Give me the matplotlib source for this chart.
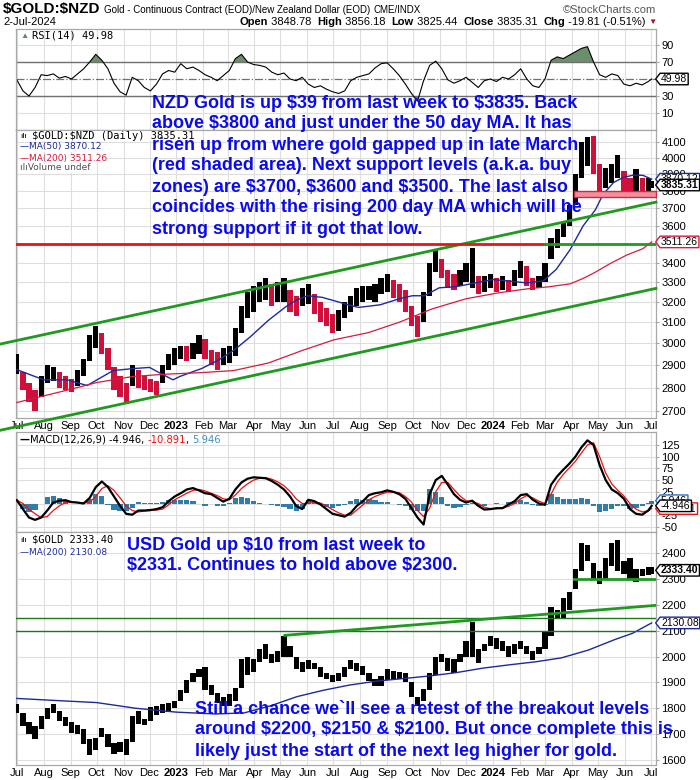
import numpy as np
import pandas as pd
import matplotlib
matplotlib.use('Agg')
import matplotlib.pyplot as plt
from matplotlib.path import Path

plt.rcParams['font.family'] = ['Liberation Sans', 'DejaVu Sans']
plt.rcParams['text.parse_math'] = False

# weekly bars (Fridays) + last day
week_dates = pd.date_range('2022-07-01', periods=105, freq='7D').append(pd.DatetimeIndex(['2024-07-02']))

nzd_low = [2860, 2790, 2740, 2700, 2760, 2820, 2830, 2800, 2790, 2780,
           2810, 2850, 2920, 2980, 2950, 2880, 2790, 2760, 2730, 2810,
           2800, 2790, 2780, 2770, 2820, 2880, 2900, 2930, 2920, 2930,
           2950, 2930, 2900, 2880, 2900, 2910, 2940, 3050, 3120, 3150,
           3200, 3210, 3180, 3200, 3200, 3150, 3130, 3180, 3190, 3140,
           3100, 3080, 3050, 3060, 3120, 3150, 3180, 3200, 3210, 3200,
           3240, 3250, 3220, 3200, 3150, 3080, 3030, 3100, 3230, 3350,
           3320, 3270, 3260, 3280, 3300, 3270, 3240, 3250, 3270, 3250,
           3260, 3250, 3280, 3320, 3280, 3260, 3270, 3300, 3420, 3480,
           3540, 3600, 3720, 3880, 3950, 3900, 3800, 3820, 3850, 3880,
           3790, 3770, 3760, 3780, 3790, 3820]
nzd_high = [2950, 2870, 2820, 2790, 2850, 2900, 2890, 2870, 2850, 2840,
            2880, 2930, 3040, 3080, 3050, 2980, 2890, 2850, 2820, 2900,
            2880, 2850, 2840, 2830, 2900, 2950, 2980, 2990, 2990, 3000,
            3040, 3020, 2970, 2960, 2980, 2990, 3070, 3180, 3250, 3280,
            3300, 3320, 3290, 3300, 3320, 3260, 3230, 3270, 3290, 3240,
            3200, 3170, 3140, 3160, 3200, 3230, 3270, 3280, 3280, 3290,
            3320, 3340, 3310, 3290, 3260, 3180, 3130, 3250, 3400, 3470,
            3420, 3360, 3340, 3360, 3400, 3480, 3330, 3330, 3340, 3320,
            3330, 3310, 3360, 3410, 3380, 3320, 3330, 3400, 3530, 3580,
            3620, 3720, 3900, 4100, 4130, 4140, 3960, 3940, 3960, 4020,
            3920, 3880, 3930, 3880, 3880, 3860]

ma50_dates = ['2022-07-01', '2022-08-01', '2022-08-28', '2022-09-20', '2022-10-20', '2022-11-12',
              '2022-12-01', '2022-12-12', '2022-12-28', '2023-01-05', '2023-01-30', '2023-02-17',
              '2023-03-08', '2023-03-27', '2023-04-17', '2023-05-07', '2023-05-19', '2023-06-01',
              '2023-06-18', '2023-07-02', '2023-07-18', '2023-07-30', '2023-08-24', '2023-09-15',
              '2023-09-30', '2023-10-14', '2023-10-31', '2023-11-20', '2023-12-12', '2024-01-01',
              '2024-01-18', '2024-02-09', '2024-02-28', '2024-03-14', '2024-03-30', '2024-04-14',
              '2024-04-28', '2024-05-07', '2024-05-19', '2024-05-30', '2024-06-11', '2024-06-22',
              '2024-07-02']
ma50_vals = [2880, 2835, 2835, 2810, 2876, 2885, 2890, 2867, 2835, 2850, 2885, 2920,
             2967, 3030, 3109, 3175, 3207, 3230, 3222, 3205, 3185, 3172, 3185, 3215,
             3230, 3230, 3270, 3276, 3295, 3312, 3305, 3295, 3305, 3365, 3470, 3600,
             3690, 3780, 3850, 3880, 3895, 3893, 3870.12]

ma200_dates = ['2022-07-01', '2022-08-28', '2022-10-01', '2022-11-12', '2022-12-20', '2023-01-30',
               '2023-03-08', '2023-04-17', '2023-05-26', '2023-07-02', '2023-08-10', '2023-09-15',
               '2023-10-23', '2023-12-01', '2024-01-08', '2024-02-10', '2024-03-05', '2024-03-30',
               '2024-04-14', '2024-04-28', '2024-05-15', '2024-06-03', '2024-06-22', '2024-07-02']
ma200_vals = [2737, 2790, 2823, 2850, 2860, 2867, 2876, 2910, 2967, 3017, 3050, 3100,
              3165, 3215, 3245, 3265, 3275, 3290, 3318, 3350, 3395, 3440, 3475, 3511.26]

rsi_vals = [49, 36, 30, 40, 55, 54, 56, 51, 53, 50,
            56, 62, 70, 79, 72, 62, 45, 35, 31, 52,
            48, 40, 36, 44, 56, 60, 58, 68, 62, 64,
            60, 55, 52, 48, 54, 60, 74, 79, 70, 67,
            66, 64, 58, 55, 57, 50, 48, 52, 44, 40,
            42, 38, 35, 33, 36, 48, 52, 54, 56, 63,
            68, 69, 62, 54, 44, 33, 24, 48, 66, 71,
            62, 49, 45, 48, 52, 46, 40, 48, 50, 47,
            52, 50, 55, 62, 50, 42, 40, 50, 72, 76,
            74, 78, 82, 86, 88, 70, 55, 52, 56, 54,
            44, 42, 45, 43, 47, 49.98]

macd_vals = [7, -12, -30, -35, -30, -15, 2, 6, 7, 3,
             2, 0, 12, 35, 47, 35, 15, -5, -22, -24,
             -15, -15, -14, -12, -8, 5, 15, 22, 30, 33,
             28, 22, 20, 12, 4, 10, 30, 45, 53, 56,
             55, 54, 48, 40, 30, 15, -5, -12, 8, 5,
             -2, -12, -22, -25, -28, -20, -5, 5, 18, 22,
             24, 28, 25, 20, 10, -10, -30, -45, 20, 50,
             59, 40, 20, 8, 2, 6, -5, -13, -12, -10,
             -10, -2, 5, 18, 20, 8, 0, -3, 40, 58,
             72, 85, 100, 120, 135, 125, 82, 50, 30, 22,
             10, -12, -22, -24, -15, -4.946]
signal_vals = [7, 0, -12, -22, -30, -28, -15, -5, 2, 3,
               2, 1, 3, 15, 32, 38, 28, 12, -5, -15,
               -18, -16, -15, -14, -12, -3, 8, 15, 22, 28,
               30, 27, 22, 17, 10, 8, 18, 32, 42, 50,
               54, 55, 52, 46, 38, 26, 10, 0, 0, 3,
               1, -5, -13, -20, -25, -25, -14, -3, 8, 15,
               20, 24, 25, 23, 15, 3, -15, -28, -10, 25,
               45, 45, 30, 16, 6, 4, 0, -8, -11, -11,
               -10, -6, 0, 10, 17, 12, 5, 0, 20, 45,
               62, 76, 90, 108, 125, 130, 100, 65, 42, 28,
               16, 0, -12, -18, -16, -10.891]

usd_low = [1780, 1730, 1700, 1680, 1720, 1760, 1780, 1750, 1730, 1705,
           1700, 1660, 1620, 1640, 1690, 1650, 1625, 1630, 1620, 1670,
           1740, 1735, 1750, 1775, 1780, 1785, 1800, 1830, 1860, 1900,
           1920, 1870, 1850, 1820, 1810, 1810, 1830, 1880, 1930, 1940,
           1980, 1990, 1975, 1980, 2000, 2000, 1950, 1940, 1950, 1950,
           1920, 1915, 1900, 1905, 1920, 1950, 1945, 1930, 1905, 1885,
           1885, 1910, 1910, 1915, 1900, 1845, 1810, 1830, 1870, 1930,
           1980, 1945, 1935, 1980, 2000, 2000, 1975, 2020, 2040, 2030,
           2020, 2000, 2010, 2030, 2010, 1985, 2010, 2030, 2080, 2150,
           2150, 2180, 2260, 2330, 2370, 2300, 2280, 2300, 2350, 2330,
           2320, 2300, 2290, 2310, 2315, 2320]
usd_high = [1815, 1780, 1745, 1730, 1770, 1800, 1815, 1790, 1765, 1745,
            1735, 1720, 1680, 1685, 1725, 1700, 1665, 1670, 1680, 1770,
            1790, 1760, 1805, 1810, 1815, 1820, 1830, 1870, 1910, 1935,
            1950, 1960, 1890, 1860, 1845, 1855, 1880, 1990, 2000, 1990,
            2030, 2050, 2010, 2020, 2080, 2040, 2000, 1980, 1985, 1975,
            1960, 1935, 1930, 1935, 1960, 1985, 1975, 1965, 1935, 1915,
            1925, 1950, 1945, 1940, 1935, 1900, 1845, 1875, 1935, 2000,
            2010, 1995, 1990, 2010, 2060, 2135, 2030, 2050, 2080, 2070,
            2060, 2040, 2050, 2060, 2040, 2020, 2035, 2100, 2190, 2180,
            2225, 2250, 2340, 2440, 2430, 2360, 2330, 2380, 2440, 2450,
            2370, 2380, 2340, 2340, 2345, 2345]

usd_ma200_dates = ['2022-07-01', '2022-08-15', '2022-10-01', '2022-11-15', '2023-01-01', '2023-02-15',
                   '2023-03-20', '2023-04-20', '2023-05-20', '2023-06-20', '2023-07-20', '2023-08-20',
                   '2023-09-20', '2023-10-20', '2023-11-20', '2023-12-20', '2024-01-20', '2024-02-20',
                   '2024-03-20', '2024-04-20', '2024-05-20', '2024-06-10', '2024-07-02']
usd_ma200_vals = [1838, 1830, 1822, 1800, 1785, 1778, 1782, 1810, 1845, 1870, 1890, 1905,
                  1915, 1925, 1938, 1955, 1968, 1980, 1995, 2025, 2065, 2090, 2130.08]

nzd_text = ["NZD Gold is up $39 from last week to $3835. Back",
            "above $3800 and just under the 50 day MA. It has",
            "risen up from where gold gapped up in late March",
            "(red shaded area). Next support levels (a.k.a. buy",
            "zones) are $3700, $3600 and $3500. The last also",
            "coincides with the rising 200 day MA which will be",
            "strong support if it got that low."]
usd_text = ["USD Gold up $10 from last week to",
            "$2331. Continues to hold above $2300."]
bottom_text = ["Still a chance we`ll see a retest of the breakout levels",
               "around $2200, $2150 & $2100. But once complete this is",
               "likely just the start of the next leg higher for gold."]

W, H = 700, 780
fig = plt.figure(figsize=(7, 7.8), dpi=100)


def fx(px):
    return px / W


def fy(py):
    return 1 - py / H


def panel(top, bottom):
    return fig.add_axes([fx(16), fy(bottom), fx(640), (bottom - top) / H])


ax_rsi = panel(29, 130)
ax_px = panel(130, 418)
ax_macd = panel(432, 532)
ax_usd = panel(532, 765)
ax_px.set_yscale('log')

x0 = pd.Timestamp('2022-06-30')
x1 = pd.Timestamp('2024-07-07')
month_ticks = pd.date_range('2022-07-01', '2024-07-01', freq='MS')


def style(ax, yticks, ylim, show_x=False):
    ax.set_xlim(x0, x1)
    ax.set_ylim(*ylim)
    ax.set_yticks(yticks)
    ax.set_yticklabels([str(t) for t in yticks])
    ax.minorticks_off()
    ax.yaxis.tick_right()
    ax.set_xticks(month_ticks)
    ax.grid(True, color='#dedede', lw=0.8)
    ax.set_axisbelow(True)
    for s in ax.spines.values():
        s.set_color('#a8a8a8')
        s.set_linewidth(0.9)
    ax.tick_params(axis='y', length=2, pad=2, labelsize=8, color='#a8a8a8', labelcolor='black')
    ax.tick_params(axis='x', length=0, pad=2, labelsize=8)
    if show_x:
        ax.set_xticklabels([d.strftime('%Y') if d.month == 1 else d.strftime('%b') for d in month_ticks])
        for t, d in zip(ax.get_xticklabels(), month_ticks):
            if d.month == 1:
                t.set_fontweight('bold')
    else:
        ax.set_xticklabels([])


def tag_style(x0, y0, width, height, mutation_size):
    pad = 0.18 * mutation_size
    x0, y0 = x0 - pad * 0.5, y0 - pad * 0.4
    width, height = width + pad, height + pad * 0.8
    tip = height * 0.38
    verts = [(x0 - tip, y0 + height / 2), (x0, y0 + height), (x0 + width, y0 + height),
             (x0 + width, y0), (x0, y0), (x0 - tip, y0 + height / 2)]
    return Path(verts, closed=True)


def tag(ax, y, label, edge, bold=False, color='black'):
    ax.text(1 + 5 / 640, y, label, transform=ax.get_yaxis_transform(), ha='left', va='center',
            fontsize=7.5, fontweight='bold' if bold else 'normal', color=color, zorder=10,
            bbox=dict(boxstyle=tag_style, fc='white', ec=edge, lw=1))


def runs(x_px, y_px, pieces, right=False, **kw):
    r = fig.canvas.get_renderer()
    x = x_px
    texts = []
    for s, props in pieces:
        t = fig.text(fx(x), fy(y_px), s, va='center', ha='left', **{**kw, **props})
        texts.append(t)
        x += t.get_window_extent(r).width
    if right:
        shift = x - x_px
        for t in texts:
            px, py = t.get_position()
            t.set_position((px - fx(shift), py))


# ---------------- RSI ----------------
rsi = np.array(rsi_vals)
style(ax_rsi, [10, 30, 70, 90], (-10, 108.8))
ax_rsi.axhline(70, color='#707070', lw=1)
ax_rsi.axhline(30, color='#707070', lw=1)
ax_rsi.axhline(50, color='#707070', lw=0.9, ls='-.')
ax_rsi.fill_between(week_dates, rsi, 70, where=rsi > 70, interpolate=True, color='#6a8f6a', lw=0)
ax_rsi.fill_between(week_dates, rsi, 30, where=rsi < 30, interpolate=True, color='#737873', lw=0)
ax_rsi.plot(week_dates, rsi, color='black', lw=0.8)
tag(ax_rsi, 49.98, '49.98', 'black')
fig.text(fx(20), fy(36), '▲', color='#5f8a5f', fontsize=6, va='center')
fig.text(fx(32), fy(36), 'RSI(14) 49.98', family='DejaVu Sans Mono', fontsize=7.5, va='center')

# ---------------- NZD price ----------------
style(ax_px, list(range(2700, 4101, 100)), (2672, 4177), show_x=True)
lo = np.array(nzd_low)
hi = np.array(nzd_high)
mid = (lo + hi) / 2
cols = ['black'] + ['black' if mid[i] >= mid[i - 1] else '#d0103a' for i in range(1, len(mid))]
ax_px.bar(week_dates, hi - lo, bottom=lo, width=6, color=cols, lw=0, zorder=3)
ax_px.plot(pd.to_datetime(ma50_dates), ma50_vals, color='#1c2a9c', lw=1, zorder=4)
ax_px.plot(pd.to_datetime(ma200_dates), ma200_vals, color='#d41c3c', lw=0.9, zorder=4)

green = '#1f9a1f'
ax_px.plot(pd.to_datetime(['2022-06-11', '2024-07-07']), [2996, 3735], color=green, lw=2, clip_on=False, zorder=5)
ax_px.plot(pd.to_datetime(['2022-06-11', '2024-07-07']), [2621, 3267], color=green, lw=2, clip_on=False, zorder=5)
ax_px.plot([x0, pd.Timestamp('2024-03-01')], [3500, 3500], color='#ee1111', lw=2, zorder=5)
ax_px.plot([pd.Timestamp('2024-03-01'), x1], [3500, 3500], color=green, lw=2, zorder=5)
ax_px.fill_between([pd.Timestamp('2024-04-03'), x1], 3765, 3800, color='#f0909c', ec='#dd2244', lw=1, zorder=4)

tag(ax_px, 3870.12, '3870.12', '#1c2a9c')
tag(ax_px, 3835.31, '3835.31', 'black', bold=True)
tag(ax_px, 3511.26, '3511.26', '#d41c3c')

lg = dict(va='center', bbox=dict(fc='white', ec='none', pad=0))
fig.text(fx(20), fy(136), 'ılı', fontsize=6, **lg)
fig.text(fx(32), fy(136), '$GOLD:$NZD (Daily) 3835.31', family='DejaVu Sans Mono', fontsize=7.5, **lg)
fig.text(fx(20), fy(147), '—MA(50) 3870.12', family='DejaVu Sans', fontsize=6.5, color='#1c2a9c', **lg)
fig.text(fx(20), fy(158), '—MA(200) 3511.26', family='DejaVu Sans', fontsize=6.5, color='#d41c3c', **lg)
fig.text(fx(20), fy(168), 'ılıVolume undef', family='DejaVu Sans', fontsize=6.5, color='#505050', **lg)

# ---------------- MACD ----------------
macd = np.array(macd_vals)
sig = np.array(signal_vals)
style(ax_macd, [-50, -25, 25, 50, 75, 100, 125], (-60.9, 152.8))
ax_macd.axhline(0, color='#dedede', lw=0.8, zorder=0)
ax_macd.bar(week_dates, macd - sig, width=6, color='#2f7ea8', lw=0, zorder=2)
ax_macd.plot(week_dates, sig, color='#ee1111', lw=0.9, zorder=3)
ax_macd.plot(week_dates, macd, color='black', lw=1.6, zorder=4)
tag(ax_macd, 5.946, '5.946', '#2f6fc0')
tag(ax_macd, -10.891, '-10.891', '#ee1111')
tag(ax_macd, -4.946, '-4.946', 'black')
runs(20, 440, [('—', dict(fontweight='bold')), ('MACD(12,26,9) -4.946, ', {}),
               ('-10.891', dict(color='#ee1111')), (', ', {}), ('5.946', dict(color='#3d8fc0'))],
     family='DejaVu Sans', fontsize=7.2)

# ---------------- USD gold ----------------
style(ax_usd, list(range(1600, 2401, 100)), (1580.6, 2481.6), show_x=True)
ulo = np.array(usd_low)
uhi = np.array(usd_high)
ax_usd.bar(week_dates, uhi - ulo, bottom=ulo, width=6, color='black', lw=0, zorder=3)
ax_usd.plot(pd.to_datetime(usd_ma200_dates), usd_ma200_vals, color='#1c2a9c', lw=1, zorder=4)
ax_usd.axhline(2150, color='#1a7a1a', lw=1, zorder=4)
ax_usd.axhline(2100, color='#1a7a1a', lw=1, zorder=4)
ax_usd.plot(pd.to_datetime(['2023-05-06', '2024-07-07']), [2082, 2198], color=green, lw=2, zorder=5)
ax_usd.plot([pd.Timestamp('2024-04-03'), x1], [2300, 2300], color=green, lw=2, zorder=5)
tag(ax_usd, 2130.08, '2130.08', '#1c2a9c')
tag(ax_usd, 2333.40, '2333.40', 'black', bold=True)
fig.text(fx(20), fy(540), 'ılı', fontsize=6, **lg)
fig.text(fx(32), fy(540), '$GOLD 2333.40', family='DejaVu Sans Mono', fontsize=7.5, **lg)
fig.text(fx(20), fy(552), '—MA(200) 2130.08', family='DejaVu Sans', fontsize=6.5, color='#1c2a9c', **lg)

# ---------------- header ----------------
fig.text(fx(3), fy(9), '$GOLD:$NZD', fontsize=11, fontweight='bold', va='center')
fig.text(fx(104), fy(10), 'Gold - Continuous Contract (EOD)/New Zealand Dollar (EOD)', fontsize=7.0, va='center')
fig.text(fx(374), fy(10), 'CME/INDX', fontsize=7.0, va='center')
fig.text(fx(656), fy(10), '©StockCharts.com', fontsize=8, color='#555555', va='center', ha='right')
fig.text(fx(3), fy(22), '2-Jul-2024', fontsize=8, va='center')
runs(657, 22, [('Open', dict(fontweight='bold')), (' 3848.78  ', {}), ('High', dict(fontweight='bold')),
               (' 3856.18  ', {}), ('Low', dict(fontweight='bold')), (' 3825.44  ', {}),
               ('Close', dict(fontweight='bold')), (' 3835.31  ', {}), ('Chg', dict(fontweight='bold')),
               (' -19.81 (-0.51%) ', {}), ('▼', dict(color='#b01020', fontsize=6))], right=True, fontsize=8)

# ---------------- commentary ----------------
blue = '#0a0af0'
for i, line in enumerate(nzd_text):
    fig.text(fx(152), fy(103 + 21 * i), line, color=blue, fontsize=13, fontweight='bold', va='center', zorder=20)
for i, line in enumerate(usd_text):
    fig.text(fx(127), fy(545 + 21 * i), line, color=blue, fontsize=13, fontweight='bold', va='center', zorder=20)
for i, line in enumerate(bottom_text):
    fig.text(fx(195), fy(709 + 21 * i), line, color=blue, fontsize=13, fontweight='bold', va='center', zorder=20)

fig.savefig('out.png', dpi=100)
